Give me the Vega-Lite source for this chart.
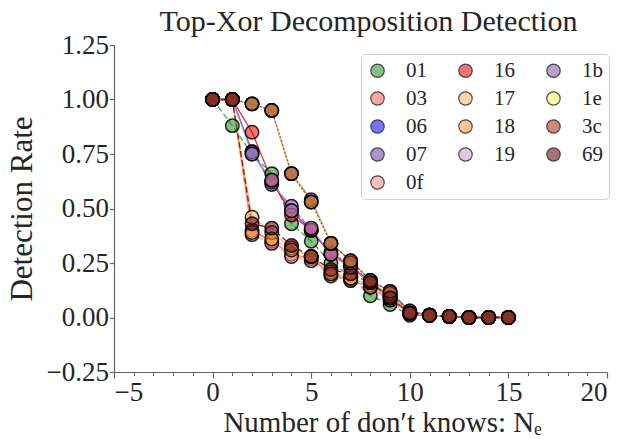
{
  "$schema": "https://vega.github.io/schema/vega-lite/v6.json",
  "width": 493,
  "height": 327,
  "autosize": {"type": "none"},
  "padding": {"left": 114, "top": 45, "right": 28, "bottom": 67},
  "config": {
    "view": {"stroke": null},
    "font": "Liberation Serif",
    "axis": {
      "labelFont": "Liberation Serif",
      "titleFont": "Liberation Serif",
      "labelFontSize": 27,
      "titleFontSize": 30,
      "titleFontWeight": "normal",
      "labelColor": "#262626",
      "titleColor": "#262626",
      "domainColor": "#666666",
      "tickColor": "#666666",
      "domainWidth": 1.2,
      "tickWidth": 1.2,
      "tickSize": 6,
      "grid": false
    }
  },
  "title": {
    "text": "Top-Xor Decomposition Detection",
    "font": "Liberation Serif",
    "fontSize": 30,
    "fontWeight": "normal",
    "color": "#262626",
    "anchor": "middle",
    "offset": 10,
    "dx": 8,
    "dy": 16
  },
  "data": {
    "values": [
      {"n": 0, "01": 1.0, "03": 1.0, "06": 1.0, "07": 1.0, "0f": 1.0, "16": 1.0, "17": 1.0, "18": 1.0, "19": 1.0, "1b": 1.0, "1e": 1.0, "3c": 1.0, "69": 1.0},
      {"n": 1, "01": 0.88, "03": 1.0, "06": 1.0, "07": 1.0, "0f": 1.0, "16": 1.0, "17": 1.0, "18": 1.0, "19": 1.0, "1b": 1.0, "1e": 1.0, "3c": 1.0, "69": 1.0},
      {"n": 2, "01": 0.75, "03": 0.40, "06": 0.76, "07": 0.76, "0f": 0.38, "16": 0.85, "17": 0.46, "18": 0.39, "19": 0.75, "1b": 0.98, "1e": 0.98, "3c": 0.98, "69": 0.43},
      {"n": 3, "01": 0.66, "03": 0.35, "06": 0.62, "07": 0.61, "0f": 0.34, "16": 0.63, "17": 0.39, "18": 0.36, "19": 0.63, "1b": 0.95, "1e": 0.95, "3c": 0.95, "69": 0.41},
      {"n": 4, "01": 0.43, "03": 0.29, "06": 0.49, "07": 0.51, "0f": 0.28, "16": 0.47, "17": 0.32, "18": 0.31, "19": 0.49, "1b": 0.66, "1e": 0.66, "3c": 0.66, "69": 0.33},
      {"n": 5, "01": 0.35, "03": 0.27, "06": 0.40, "07": 0.40, "0f": 0.26, "16": 0.40, "17": 0.28, "18": 0.28, "19": 0.41, "1b": 0.54, "1e": 0.53, "3c": 0.53, "69": 0.28},
      {"n": 6, "01": 0.25, "03": 0.20, "06": 0.29, "07": 0.30, "0f": 0.19, "16": 0.29, "17": 0.21, "18": 0.20, "19": 0.29, "1b": 0.34, "1e": 0.34, "3c": 0.34, "69": 0.22},
      {"n": 7, "01": 0.19, "03": 0.17, "06": 0.23, "07": 0.24, "0f": 0.17, "16": 0.24, "17": 0.18, "18": 0.18, "19": 0.23, "1b": 0.26, "1e": 0.25, "3c": 0.26, "69": 0.20},
      {"n": 8, "01": 0.10, "03": 0.14, "06": 0.16, "07": 0.17, "0f": 0.14, "16": 0.16, "17": 0.15, "18": 0.14, "19": 0.16, "1b": 0.17, "1e": 0.17, "3c": 0.17, "69": 0.16},
      {"n": 9, "01": 0.06, "03": 0.08, "06": 0.10, "07": 0.11, "0f": 0.08, "16": 0.10, "17": 0.09, "18": 0.09, "19": 0.10, "1b": 0.12, "1e": 0.11, "3c": 0.12, "69": 0.09},
      {"n": 10, "01": 0.01, "03": 0.02, "06": 0.02, "07": 0.03, "0f": 0.02, "16": 0.02, "17": 0.02, "18": 0.02, "19": 0.02, "1b": 0.03, "1e": 0.02, "3c": 0.02, "69": 0.02},
      {"n": 11, "01": 0.01, "03": 0.01, "06": 0.01, "07": 0.01, "0f": 0.01, "16": 0.01, "17": 0.01, "18": 0.01, "19": 0.01, "1b": 0.01, "1e": 0.01, "3c": 0.01, "69": 0.01},
      {"n": 12, "01": 0.005, "03": 0.005, "06": 0.005, "07": 0.005, "0f": 0.005, "16": 0.005, "17": 0.005, "18": 0.005, "19": 0.005, "1b": 0.005, "1e": 0.005, "3c": 0.005, "69": 0.005},
      {"n": 13, "01": 0.0, "03": 0.0, "06": 0.0, "07": 0.0, "0f": 0.0, "16": 0.0, "17": 0.0, "18": 0.0, "19": 0.0, "1b": 0.0, "1e": 0.0, "3c": 0.0, "69": 0.0},
      {"n": 14, "01": 0.0, "03": 0.0, "06": 0.0, "07": 0.0, "0f": 0.0, "16": 0.0, "17": 0.0, "18": 0.0, "19": 0.0, "1b": 0.0, "1e": 0.0, "3c": 0.0, "69": 0.0},
      {"n": 15, "01": 0.0, "03": 0.0, "06": 0.0, "07": 0.0, "0f": 0.0, "16": 0.0, "17": 0.0, "18": 0.0, "19": 0.0, "1b": 0.0, "1e": 0.0, "3c": 0.0, "69": 0.0}
    ]
  },
  "transform": [
    {"fold": ["01", "03", "06", "07", "0f", "16", "17", "18", "19", "1b", "1e", "3c", "69"], "as": ["series", "rate"]}
  ],
  "layer": [
    {
      "mark": {"type": "point", "opacity": 0},
      "encoding": {
        "x": {
          "field": "n",
          "type": "quantitative",
          "scale": {"domain": [-5, 20], "nice": false, "zero": false},
          "axis": {
            "orient": "bottom",
            "values": [-5, 0, 5, 10, 15, 20],
            "format": "d",
            "labelPadding": 1,
            "title": "Number of don′t knows: Nₑ",
            "titleFontSize": 29,
            "titleX": 268,
            "titlePadding": 3
          }
        },
        "y": {"field": "rate", "type": "quantitative"}
      }
    },
    {
      "mark": {"type": "line", "strokeWidth": 1.3, "opacity": 0.8},
      "encoding": {
        "x": {"field": "n", "type": "quantitative", "axis": null},
        "y": {"field": "rate", "type": "quantitative"},
        "detail": {"field": "series", "type": "nominal"},
        "stroke": {
          "field": "series",
          "type": "nominal",
          "scale": {
            "domain": ["69", "3c", "1e", "1b", "19", "18", "17", "16", "0f", "07", "06", "03", "01"],
            "range": ["#5a0010", "#a02a18", "#ffff60", "#7a4fa8", "#c0a0cc", "#ff9933", "#ffb060", "#e60000", "#ff8c80", "#6a3d9a", "#0000ff", "#f0605a", "#1e8c1e"]
          },
          "legend": null
        },
        "strokeDash": {
          "field": "series",
          "type": "nominal",
          "scale": {
            "domain": ["69", "3c", "1e", "1b", "19", "18", "17", "16", "0f", "07", "06", "03", "01"],
            "range": [[6, 3], [2, 2], [1, 0], [1, 0], [1, 0], [2, 2], [1, 0], [1, 0], [6, 3], [8, 3, 2, 3], [1, 0], [1, 0], [6, 3]]
          },
          "legend": null
        }
      }
    },
    {
      "mark": {
        "type": "point",
        "shape": "circle",
        "filled": true,
        "size": 180,
        "stroke": "#000000",
        "strokeWidth": 1.5,
        "fillOpacity": 0.55,
        "strokeOpacity": 0.85
      },
      "encoding": {
        "x": {
          "field": "n",
          "type": "quantitative",
          "axis": {
            "orient": "bottom",
            "values": [-4, -3, -2, -1, 1, 2, 3, 4, 6, 7, 8, 9, 11, 12, 13, 14, 16, 17, 18, 19],
            "labels": false,
            "domain": false,
            "tickSize": 3.5,
            "tickWidth": 1,
            "title": null
          }
        },
        "y": {
          "field": "rate",
          "type": "quantitative",
          "scale": {"domain": [-0.25, 1.25], "nice": false, "zero": false},
          "axis": {
            "values": [-0.25, 0, 0.25, 0.5, 0.75, 1.0, 1.25],
            "format": ".2f",
            "tickSize": 4.5,
            "labelPadding": 1,
            "title": "Detection Rate",
            "titleFontSize": 31,
            "titlePadding": 8
          }
        },
        "fill": {
          "field": "series",
          "type": "nominal",
          "scale": {
            "domain": ["01", "03", "06", "07", "69", "16", "17", "18", "19", "0f", "1b", "1e", "3c"],
            "range": ["#1e8c1e", "#f0605a", "#0000ff", "#6a3d9a", "#5a0010", "#e60000", "#ffb060", "#ff9933", "#c0a0cc", "#ff8c80", "#7a4fa8", "#ffff60", "#a02a18"]
          },
          "legend": {
            "orient": "none",
            "legendX": 247,
            "legendY": 9,
            "columns": 3,
            "title": null,
            "labelFont": "Liberation Serif",
            "labelFontSize": 21,
            "labelColor": "#262626",
            "labelOffset": 18,
            "symbolType": "circle",
            "symbolSize": 180,
            "symbolStrokeColor": "#333333",
            "symbolStrokeWidth": 1.2,
            "padding": 6,
            "rowPadding": 6,
            "columnPadding": 28,
            "gridAlign": "all",
            "strokeColor": "#d0d0d0",
            "fillColor": "#ffffff",
            "cornerRadius": 4,
            "encode": {
              "symbols": {"update": {"fillOpacity": {"value": 0.55}, "strokeOpacity": {"value": 0.85}}}
            }
          }
        }
      }
    }
  ],
  "resolve": {"axis": {"x": "independent"}}
}
